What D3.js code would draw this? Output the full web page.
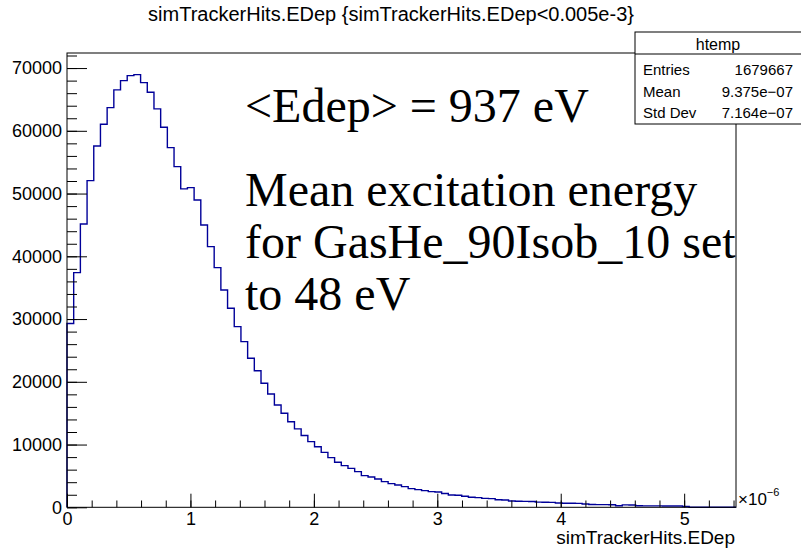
<!DOCTYPE html>
<html>
<head>
<meta charset="utf-8">
<script src="https://cdn.jsdelivr.net/npm/d3@7"></script>
<style>
  body { margin: 0; background: #fff; }
  svg { display: block; }
  text { font-family: "Liberation Sans", Arial, Helvetica, sans-serif; fill: #000; }
  .note { font-family: "Liberation Serif", "Times New Roman", serif; }
</style>
</head>
<body>
<svg id="chart"></svg>
<script>
// histogram contents, 100 bins from 0 to xMax (units of 1e-6)
const binCounts = [
  29300, 37400, 45160, 52060, 57590, 61050, 63700, 66520, 68000, 68800,
  68960, 67680, 66150, 63490, 60570, 57320, 54290, 50740, 50940, 48980,
  45000, 41540, 38190, 34640, 31720, 28790, 26400, 23750, 21770, 19770,
  18060, 16310, 14980, 13640, 12500, 11450, 10460, 9660, 8760, 7910,
  7170, 6640, 6210, 5680, 5050, 4830, 4510, 4090, 3770, 3560,
  3290, 2970, 2810, 2650, 2500, 2440, 2200, 1965, 1910, 1750,
  1600, 1540, 1420, 1380, 1200, 1170, 1000, 960, 950, 930,
  820, 800, 790, 680, 650, 640, 620, 520, 440, 430,
  420, 410, 250, 380, 360, 240, 230, 220, 220, 210,
  200, 200, 120, 0, 0, 0, 0, 0, 0, 0
];
const xMax = 5.42;
const yMax = 72400;

const xMajorTicks = [0, 1, 2, 3, 4, 5];
const yMajorTicks = [0, 10000, 20000, 30000, 40000, 50000, 60000, 70000];

const titleText = 'simTrackerHits.EDep {simTrackerHits.EDep<0.005e-3}';
const xTitle = 'simTrackerHits.EDep';
const statsName = 'htemp';
const statsLabels = ['Entries', 'Mean', 'Std Dev'];
const statsValues = ['1679667', '9.375e\u221207', '7.164e\u221207'];
const noteLines = ['<Edep> = 937 eV', 'Mean excitation energy', 'for GasHe_90Isob_10 set', 'to 48 eV'];

class EdepHist {
  constructor(_config, _data) {
    this.config = {
      parentElement: _config.parentElement,
      containerWidth: 801,
      containerHeight: 551,
      margin: { top: 53, right: 65, bottom: 43.7, left: 67 },
    };
    this.data = _data;
    this.initVis();
  }

  initVis() {
    let vis = this;
    const m = vis.config.margin;
    vis.width = vis.config.containerWidth - m.left - m.right;
    vis.height = vis.config.containerHeight - m.top - m.bottom;

    vis.svg = d3.select(vis.config.parentElement)
      .attr('width', vis.config.containerWidth)
      .attr('height', vis.config.containerHeight);

    vis.chart = vis.svg.append('g')
      .attr('transform', `translate(${m.left},${m.top})`);

    vis.xScale = d3.scaleLinear().domain([0, xMax]).range([0, vis.width]);
    vis.yScale = d3.scaleLinear().domain([0, yMax]).range([vis.height, 0]);

    // ROOT style: ticks point into the frame
    vis.xAxis = d3.axisBottom(vis.xScale)
      .tickValues(xMajorTicks)
      .tickSize(-13.6)
      .tickPadding(5)
      .tickFormat(d3.format('d'));
    vis.xAxisMinor = d3.axisBottom(vis.xScale)
      .tickValues(d3.range(0, xMax, 0.2))
      .tickSize(-6.8)
      .tickFormat('');
    vis.yAxis = d3.axisLeft(vis.yScale)
      .tickValues(yMajorTicks)
      .tickSize(-20)
      .tickPadding(5)
      .tickFormat(d3.format('d'));
    vis.yAxisMinor = d3.axisLeft(vis.yScale)
      .tickValues(d3.range(0, yMax, 2000))
      .tickSize(-10)
      .tickFormat('');

    vis.marks = vis.chart.append('g');
    vis.xAxisG = vis.chart.append('g').attr('transform', `translate(0,${vis.height})`);
    vis.xAxisMinorG = vis.chart.append('g').attr('transform', `translate(0,${vis.height})`);
    vis.yAxisG = vis.chart.append('g');
    vis.yAxisMinorG = vis.chart.append('g');

    vis.updateVis();
  }

  updateVis() {
    let vis = this;
    const binWidth = xMax / vis.data.length;
    // step points: low edge of each bin, then close at xMax
    vis.points = [[0, 0]];
    vis.data.forEach((c, i) => vis.points.push([i * binWidth, c]));
    vis.points.push([xMax, vis.data[vis.data.length - 1]]);
    vis.renderVis();
  }

  renderVis() {
    let vis = this;

    vis.marks.append('path')
      .datum(vis.points)
      .attr('fill', 'none')
      .attr('stroke', '#000099')
      .attr('stroke-width', 1.4)
      .attr('d', d3.line()
        .curve(d3.curveStepAfter)
        .x((d) => vis.xScale(d[0]))
        .y((d) => vis.yScale(d[1])));

    vis.chart.append('rect')
      .attr('width', vis.width)
      .attr('height', vis.height)
      .attr('fill', 'none')
      .attr('stroke', '#000')
      .attr('stroke-width', 1);

    const styleAxis = (g) => {
      g.select('.domain').remove();
      g.selectAll('line').attr('stroke', '#000');
      g.selectAll('text').attr('font-size', 18).attr('font-family', null);
    };
    vis.xAxisG.call(vis.xAxis).call(styleAxis);
    vis.xAxisMinorG.call(vis.xAxisMinor).call(styleAxis);
    vis.yAxisG.call(vis.yAxis).call(styleAxis);
    vis.yAxisMinorG.call(vis.yAxisMinor).call(styleAxis);

    // exponent label at the end of the x axis
    const expo = vis.chart.append('text')
      .attr('x', vis.width + 2)
      .attr('y', vis.height - 2)
      .attr('font-size', 17);
    expo.append('tspan').text('\u00d710');
    expo.append('tspan').attr('dy', -9).attr('font-size', 11).text('\u22126');

    vis.chart.append('text')
      .attr('x', vis.width - 1)
      .attr('y', vis.height + 37)
      .attr('text-anchor', 'end')
      .attr('font-size', 19)
      .text(xTitle);

    vis.svg.append('text')
      .attr('x', 391)
      .attr('y', 21)
      .attr('text-anchor', 'middle')
      .attr('font-size', 20)
      .text(titleText);

    // annotation text
    const noteY = [122, 206, 258, 310];
    vis.svg.selectAll('.note')
      .data(noteLines)
      .join('text')
      .attr('class', 'note')
      .attr('x', 245)
      .attr('y', (d, i) => noteY[i])
      .attr('font-size', 48)
      .text((d) => d);

    // stats box
    const box = vis.svg.append('g').attr('transform', 'translate(635,32)');
    box.append('rect')
      .attr('width', 200)
      .attr('height', 92)
      .attr('fill', '#fff')
      .attr('stroke', '#000');
    box.append('line')
      .attr('x1', 0).attr('x2', 200)
      .attr('y1', 22).attr('y2', 22)
      .attr('stroke', '#000');
    box.append('text')
      .attr('x', 83)
      .attr('y', 18)
      .attr('text-anchor', 'middle')
      .attr('font-size', 16)
      .text(statsName);
    statsLabels.forEach((lab, i) => {
      box.append('text')
        .attr('x', 8)
        .attr('y', 43 + i * 21.5)
        .attr('font-size', 15)
        .text(lab);
      box.append('text')
        .attr('x', 158)
        .attr('y', 43 + i * 21.5)
        .attr('text-anchor', 'end')
        .attr('font-size', 15)
        .text(statsValues[i]);
    });
  }
}

new EdepHist({ parentElement: '#chart' }, binCounts);
</script>
</body>
</html>
